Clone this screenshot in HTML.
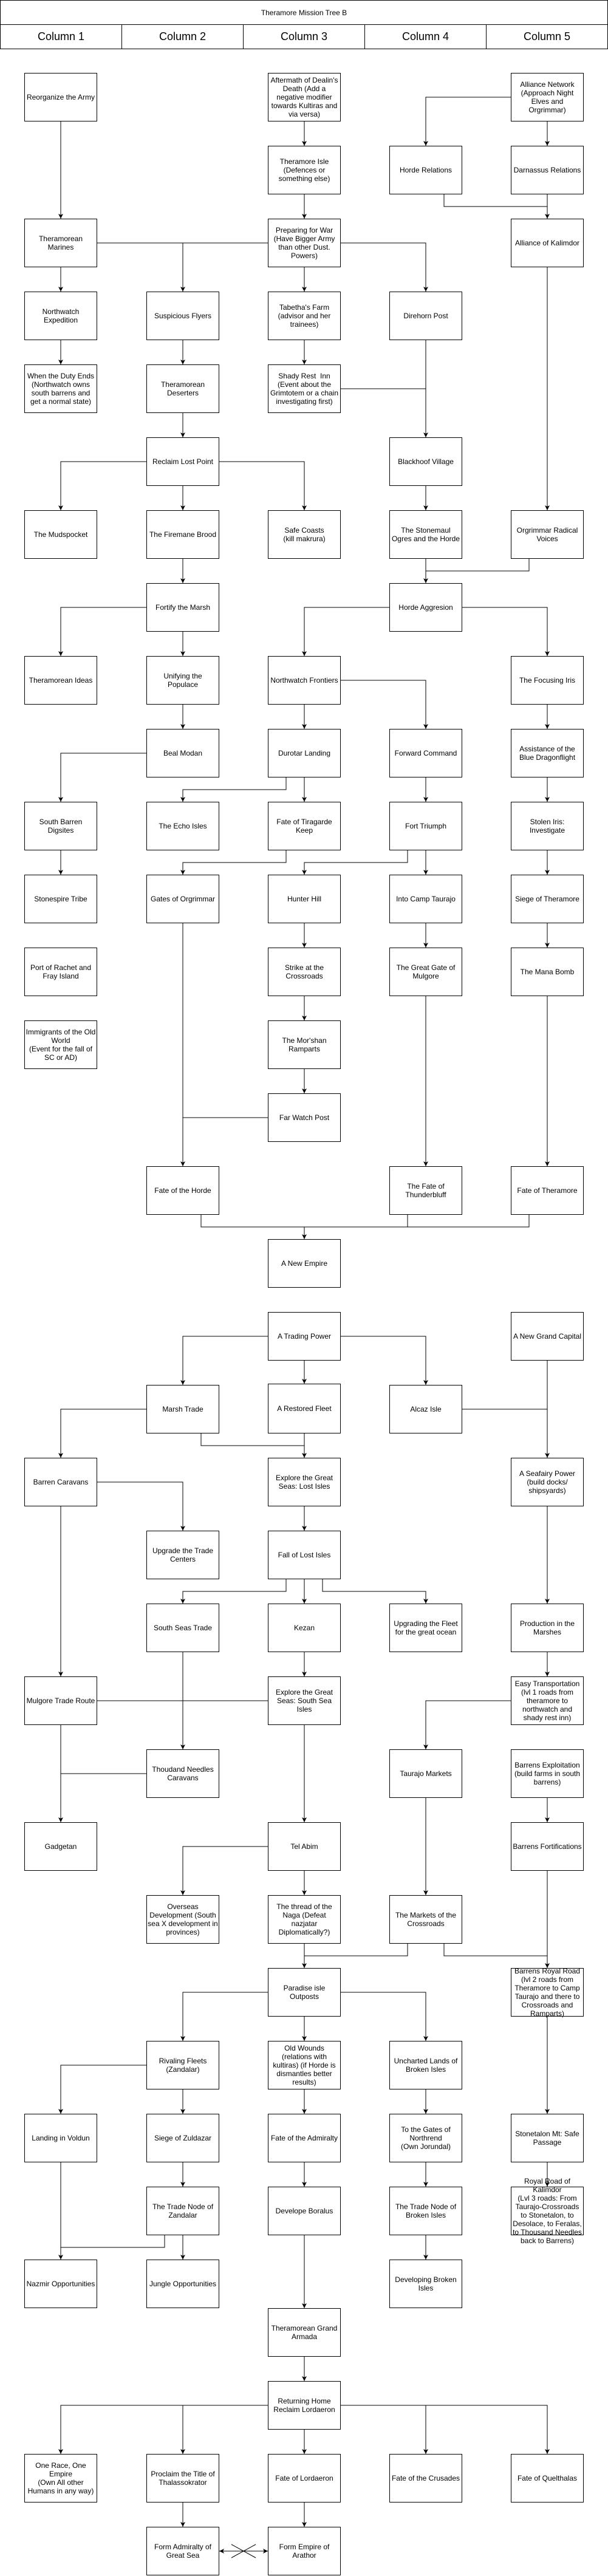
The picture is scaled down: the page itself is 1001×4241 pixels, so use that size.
<!DOCTYPE html>
<html><head><meta charset="utf-8">
<style>
html,body{margin:0;padding:0;background:#fff;}
body{width:1001px;height:4241px;position:relative;overflow:hidden;font-family:"Liberation Sans",Arial,sans-serif;}
.hd{position:absolute;box-sizing:border-box;border:1px solid #000;display:flex;align-items:center;justify-content:center;color:#000;}
.b{position:absolute;width:120px;height:80px;box-sizing:border-box;border:1px solid #000;display:flex;align-items:center;justify-content:center;text-align:center;font-size:12px;line-height:14px;color:#000;background:#fff;padding:0 1px;overflow:visible;}
.b.t{background:transparent;}
svg{position:absolute;left:0;top:0;}
</style></head><body>
<div class="hd" style="left:0;top:0;width:1001px;height:41px;font-size:12px;">Theramore Mission Tree B</div>
<div class="hd" style="left:0;top:40px;width:201px;height:41px;font-size:18px;">Column 1</div>
<div class="hd" style="left:200px;top:40px;width:201px;height:41px;font-size:18px;">Column 2</div>
<div class="hd" style="left:400px;top:40px;width:201px;height:41px;font-size:18px;">Column 3</div>
<div class="hd" style="left:600px;top:40px;width:201px;height:41px;font-size:18px;">Column 4</div>
<div class="hd" style="left:800px;top:40px;width:201px;height:41px;font-size:18px;">Column 5</div>

<svg width="1001" height="4241" viewBox="0 0 1001 4241">
<defs>
<marker id="a" markerUnits="userSpaceOnUse" markerWidth="10" markerHeight="10" refX="8" refY="4" orient="auto">
<path d="M0,0 L8,4 L0,8 L2,4 z" fill="#000"/>
</marker>
<marker id="s" markerUnits="userSpaceOnUse" markerWidth="10" markerHeight="10" refX="0" refY="4" orient="auto">
<path d="M8,0 L0,4 L8,8 L6,4 z" fill="#000"/>
</marker>
</defs>
<g fill="none" stroke="#000" stroke-width="1">
<path d="M100,200V360" marker-end="url(#a)"/>
<path d="M501,200V240" marker-end="url(#a)"/>
<path d="M841,160H701V240" marker-end="url(#a)"/>
<path d="M901,200V240" marker-end="url(#a)"/>
<path d="M501,320V360" marker-end="url(#a)"/>
<path d="M731,320V340H901"/>
<path d="M901,320V360" marker-end="url(#a)"/>
<path d="M160,400H301"/>
<path d="M441,400H301V480" marker-end="url(#a)"/>
<path d="M561,400H701V480" marker-end="url(#a)"/>
<path d="M100,440V480" marker-end="url(#a)"/>
<path d="M100,560V600" marker-end="url(#a)"/>
<path d="M501,440V480" marker-end="url(#a)"/>
<path d="M501,560V600" marker-end="url(#a)"/>
<path d="M301,560V600" marker-end="url(#a)"/>
<path d="M301,680V720" marker-end="url(#a)"/>
<path d="M701,560V720" marker-end="url(#a)"/>
<path d="M561,640H701"/>
<path d="M901,440V840" marker-end="url(#a)"/>
<path d="M241,760H100V840" marker-end="url(#a)"/>
<path d="M361,760H501V840" marker-end="url(#a)"/>
<path d="M301,800V840" marker-end="url(#a)"/>
<path d="M701,800V840" marker-end="url(#a)"/>
<path d="M701,920V960" marker-end="url(#a)"/>
<path d="M871,920V940H701"/>
<path d="M301,920V960" marker-end="url(#a)"/>
<path d="M241,1000H100V1080" marker-end="url(#a)"/>
<path d="M301,1040V1080" marker-end="url(#a)"/>
<path d="M641,1000H501V1080" marker-end="url(#a)"/>
<path d="M761,1000H901V1080" marker-end="url(#a)"/>
<path d="M301,1160V1200" marker-end="url(#a)"/>
<path d="M501,1160V1200" marker-end="url(#a)"/>
<path d="M561,1120H701V1200" marker-end="url(#a)"/>
<path d="M901,1160V1200" marker-end="url(#a)"/>
<path d="M241,1240H100V1320" marker-end="url(#a)"/>
<path d="M471,1280V1300H301V1320" marker-end="url(#a)"/>
<path d="M501,1280V1320" marker-end="url(#a)"/>
<path d="M701,1280V1320" marker-end="url(#a)"/>
<path d="M901,1280V1320" marker-end="url(#a)"/>
<path d="M100,1400V1440" marker-end="url(#a)"/>
<path d="M471,1400V1420H301V1440" marker-end="url(#a)"/>
<path d="M671,1400V1420H501V1440" marker-end="url(#a)"/>
<path d="M701,1400V1440" marker-end="url(#a)"/>
<path d="M901,1400V1440" marker-end="url(#a)"/>
<path d="M501,1520V1560" marker-end="url(#a)"/>
<path d="M701,1520V1560" marker-end="url(#a)"/>
<path d="M901,1520V1560" marker-end="url(#a)"/>
<path d="M501,1640V1680" marker-end="url(#a)"/>
<path d="M501,1760V1800" marker-end="url(#a)"/>
<path d="M301,1520V1920" marker-end="url(#a)"/>
<path d="M441,1840H301"/>
<path d="M701,1640V1920" marker-end="url(#a)"/>
<path d="M901,1640V1920" marker-end="url(#a)"/>
<path d="M331,2000V2020H871V2000"/>
<path d="M671,2000V2020"/>
<path d="M501,2020V2040" marker-end="url(#a)"/>
<path d="M441,2200H301V2280" marker-end="url(#a)"/>
<path d="M561,2200H701V2280" marker-end="url(#a)"/>
<path d="M501,2240V2278" marker-end="url(#a)"/>
<path d="M901,2240V2400" marker-end="url(#a)"/>
<path d="M761,2320H901"/>
<path d="M241,2320H100V2400" marker-end="url(#a)"/>
<path d="M331,2360V2380H501"/>
<path d="M501,2360V2400" marker-end="url(#a)"/>
<path d="M160,2440H301V2520" marker-end="url(#a)"/>
<path d="M100,2480V2760" marker-end="url(#a)"/>
<path d="M501,2480V2520" marker-end="url(#a)"/>
<path d="M471,2600V2620H301V2640" marker-end="url(#a)"/>
<path d="M501,2600V2640" marker-end="url(#a)"/>
<path d="M531,2600V2620H701V2640" marker-end="url(#a)"/>
<path d="M901,2480V2640" marker-end="url(#a)"/>
<path d="M901,2720V2760" marker-end="url(#a)"/>
<path d="M501,2720V2760" marker-end="url(#a)"/>
<path d="M160,2800H441"/>
<path d="M301,2720V2880" marker-end="url(#a)"/>
<path d="M841,2800H701V2880" marker-end="url(#a)"/>
<path d="M100,2840V3000" marker-end="url(#a)"/>
<path d="M241,2920H100"/>
<path d="M501,2840V3000" marker-end="url(#a)"/>
<path d="M901,2960V3000" marker-end="url(#a)"/>
<path d="M441,3040H301V3120" marker-end="url(#a)"/>
<path d="M501,3080V3120" marker-end="url(#a)"/>
<path d="M701,2960V3120" marker-end="url(#a)"/>
<path d="M901,3080V3240" marker-end="url(#a)"/>
<path d="M501,3200V3240" marker-end="url(#a)"/>
<path d="M671,3200V3220H501"/>
<path d="M731,3200V3220H901"/>
<path d="M441,3280H301V3360" marker-end="url(#a)"/>
<path d="M501,3320V3360" marker-end="url(#a)"/>
<path d="M561,3280H701V3360" marker-end="url(#a)"/>
<path d="M901,3320V3480" marker-end="url(#a)"/>
<path d="M241,3400H100V3480" marker-end="url(#a)"/>
<path d="M301,3440V3480" marker-end="url(#a)"/>
<path d="M501,3440V3480" marker-end="url(#a)"/>
<path d="M701,3440V3480" marker-end="url(#a)"/>
<path d="M301,3560V3600" marker-end="url(#a)"/>
<path d="M501,3560V3600" marker-end="url(#a)"/>
<path d="M701,3560V3600" marker-end="url(#a)"/>
<path d="M901,3560V3600" marker-end="url(#a)"/>
<path d="M100,3560V3720" marker-end="url(#a)"/>
<path d="M271,3680V3700H100"/>
<path d="M301,3680V3720" marker-end="url(#a)"/>
<path d="M701,3680V3720" marker-end="url(#a)"/>
<path d="M501,3680V3800" marker-end="url(#a)"/>
<path d="M501,3880V3920" marker-end="url(#a)"/>
<path d="M441,3960H100V4040" marker-end="url(#a)"/>
<path d="M301,3960V4040" marker-end="url(#a)"/>
<path d="M561,3960H901V4040" marker-end="url(#a)"/>
<path d="M701,3960V4040" marker-end="url(#a)"/>
<path d="M501,4000V4040" marker-end="url(#a)"/>
<path d="M301,4120V4160" marker-end="url(#a)"/>
<path d="M501,4120V4160" marker-end="url(#a)"/>
<path d="M361,4200H441" marker-start="url(#s)" marker-end="url(#a)"/>
<path d="M381,4189L421,4211M381,4211L421,4189"/>
</g>
</svg>

<!-- Row 0 -->
<div class="b" style="left:40px;top:120px">Reorganize the Army</div>
<div class="b" style="left:441px;top:120px">Aftermath of Dealin's Death (Add a negative modifier towards Kultiras and via versa)</div>
<div class="b" style="left:841px;top:120px">Alliance Network (Approach Night Elves and Orgrimmar)</div>
<!-- Row 1 -->
<div class="b" style="left:441px;top:240px">Theramore Isle (Defences or something else)</div>
<div class="b" style="left:641px;top:240px">Horde Relations</div>
<div class="b" style="left:841px;top:240px">Darnassus Relations</div>
<!-- Row 2 -->
<div class="b" style="left:40px;top:360px">Theramorean Marines</div>
<div class="b" style="left:441px;top:360px">Preparing for War (Have Bigger Army than other Dust. Powers)</div>
<div class="b" style="left:841px;top:360px">Alliance of Kalimdor</div>
<!-- Row 3 -->
<div class="b" style="left:40px;top:480px">Northwatch Expedition</div>
<div class="b" style="left:241px;top:480px">Suspicious Flyers</div>
<div class="b" style="left:441px;top:480px">Tabetha's Farm (advisor and her trainees)</div>
<div class="b" style="left:641px;top:480px">Direhorn Post</div>
<!-- Row 4 -->
<div class="b" style="left:40px;top:600px">When the Duty Ends (Northwatch owns south barrens and get a normal state)</div>
<div class="b" style="left:241px;top:600px">Theramorean Deserters</div>
<div class="b" style="left:441px;top:600px">Shady Rest&nbsp; Inn (Event about the Grimtotem or a chain investigating first)</div>
<!-- Row 5 -->
<div class="b" style="left:241px;top:720px">Reclaim Lost Point</div>
<div class="b" style="left:641px;top:720px">Blackhoof Village</div>
<!-- Row 6 -->
<div class="b" style="left:40px;top:840px">The Mudspocket</div>
<div class="b" style="left:241px;top:840px">The Firemane Brood</div>
<div class="b" style="left:441px;top:840px">Safe Coasts<br>(kill makrura)</div>
<div class="b" style="left:641px;top:840px">The Stonemaul Ogres and the Horde</div>
<div class="b" style="left:841px;top:840px">Orgrimmar Radical Voices</div>
<!-- Row 7 -->
<div class="b" style="left:241px;top:960px">Fortify the Marsh</div>
<div class="b" style="left:641px;top:960px">Horde Aggresion</div>
<!-- Row 8 -->
<div class="b" style="left:40px;top:1080px">Theramorean Ideas</div>
<div class="b" style="left:241px;top:1080px">Unifying the Populace</div>
<div class="b" style="left:441px;top:1080px">Northwatch Frontiers</div>
<div class="b" style="left:841px;top:1080px">The Focusing Iris</div>
<!-- Row 9 -->
<div class="b" style="left:241px;top:1200px">Beal Modan</div>
<div class="b" style="left:441px;top:1200px">Durotar Landing</div>
<div class="b" style="left:641px;top:1200px">Forward Command</div>
<div class="b" style="left:841px;top:1200px">Assistance of the Blue Dragonflight</div>
<!-- Row 10 -->
<div class="b" style="left:40px;top:1320px">South Barren Digsites</div>
<div class="b" style="left:241px;top:1320px">The Echo Isles</div>
<div class="b" style="left:441px;top:1320px">Fate of Tiragarde Keep</div>
<div class="b" style="left:641px;top:1320px">Fort Triumph</div>
<div class="b" style="left:841px;top:1320px">Stolen Iris: Investigate</div>
<!-- Row 11 -->
<div class="b" style="left:40px;top:1440px">Stonespire Tribe</div>
<div class="b" style="left:241px;top:1440px">Gates of Orgrimmar</div>
<div class="b" style="left:441px;top:1440px">Hunter Hill</div>
<div class="b" style="left:641px;top:1440px">Into Camp Taurajo</div>
<div class="b" style="left:841px;top:1440px">Siege of Theramore</div>
<!-- Row 12 -->
<div class="b" style="left:40px;top:1560px">Port of Rachet and Fray Island</div>
<div class="b" style="left:441px;top:1560px">Strike at the Crossroads</div>
<div class="b" style="left:641px;top:1560px">The Great Gate of Mulgore</div>
<div class="b" style="left:841px;top:1560px">The Mana Bomb</div>
<!-- Row 13 -->
<div class="b" style="left:40px;top:1680px">Immigrants of the Old World<br>(Event for the fall of SC or AD)</div>
<div class="b" style="left:441px;top:1680px">The Mor'shan Ramparts</div>
<!-- Row 14 -->
<div class="b" style="left:441px;top:1800px">Far Watch Post</div>
<!-- Row 15 -->
<div class="b" style="left:241px;top:1920px">Fate of the Horde</div>
<div class="b" style="left:641px;top:1920px">The Fate of Thunderbluff</div>
<div class="b" style="left:841px;top:1920px">Fate of Theramore</div>
<!-- Row 16 -->
<div class="b" style="left:441px;top:2040px">A New Empire</div>
<!-- Row 17 -->
<div class="b" style="left:441px;top:2160px">A Trading Power</div>
<div class="b" style="left:841px;top:2160px">A New Grand Capital</div>
<!-- Row 18 -->
<div class="b" style="left:241px;top:2280px">Marsh Trade</div>
<div class="b" style="left:441px;top:2278px;height:82px">A Restored Fleet</div>
<div class="b" style="left:641px;top:2280px">Alcaz Isle</div>
<!-- Row 19 -->
<div class="b" style="left:40px;top:2400px">Barren Caravans</div>
<div class="b" style="left:441px;top:2400px">Explore the Great Seas: Lost Isles</div>
<div class="b" style="left:841px;top:2400px">A Seafairy Power (build docks/ shipsyards)</div>
<!-- Row 20 -->
<div class="b" style="left:241px;top:2520px">Upgrade the Trade Centers</div>
<div class="b" style="left:441px;top:2520px">Fall of Lost Isles</div>
<!-- Row 21 -->
<div class="b" style="left:241px;top:2640px">South Seas Trade</div>
<div class="b" style="left:441px;top:2640px">Kezan</div>
<div class="b" style="left:641px;top:2640px">Upgrading the Fleet for the great ocean</div>
<div class="b" style="left:841px;top:2640px">Production in the Marshes</div>
<!-- Row 22 -->
<div class="b" style="left:40px;top:2760px">Mulgore Trade Route</div>
<div class="b" style="left:441px;top:2760px">Explore the Great Seas: South Sea Isles</div>
<div class="b" style="left:841px;top:2760px">Easy Transportation (lvl 1 roads from theramore to northwatch and shady rest inn)</div>
<!-- Row 23 -->
<div class="b" style="left:241px;top:2880px">Thoudand Needles Caravans</div>
<div class="b" style="left:641px;top:2880px">Taurajo Markets</div>
<div class="b" style="left:841px;top:2880px">Barrens Exploitation (build farms in south barrens)</div>
<!-- Row 24 -->
<div class="b" style="left:40px;top:3000px">Gadgetan</div>
<div class="b" style="left:441px;top:3000px">Tel Abim</div>
<div class="b" style="left:841px;top:3000px">Barrens Fortifications</div>
<!-- Row 25 -->
<div class="b" style="left:241px;top:3120px">Overseas Development (South sea X development in provinces)</div>
<div class="b" style="left:441px;top:3120px">The thread of the Naga (Defeat nazjatar Diplomatically?)</div>
<div class="b" style="left:641px;top:3120px">The Markets of the Crossroads</div>
<!-- Row 26 -->
<div class="b" style="left:441px;top:3240px">Paradise isle Outposts</div>
<div class="b t" style="left:841px;top:3240px">Barrens Royal Road (lvl 2 roads from Theramore to Camp Taurajo and there to Crossroads and Ramparts)</div>
<!-- Row 27 -->
<div class="b" style="left:241px;top:3360px">Rivaling Fleets (Zandalar)</div>
<div class="b" style="left:441px;top:3360px">Old Wounds (relations with kultiras) (if Horde is dismantles better results)</div>
<div class="b" style="left:641px;top:3360px">Uncharted Lands of Broken Isles</div>
<!-- Row 28 -->
<div class="b" style="left:40px;top:3480px">Landing in Voldun</div>
<div class="b" style="left:241px;top:3480px">Siege of Zuldazar</div>
<div class="b" style="left:441px;top:3480px">Fate of the Admiralty</div>
<div class="b" style="left:641px;top:3480px">To the Gates of Northrend<br>(Own Jorundal)</div>
<div class="b" style="left:841px;top:3480px">Stonetalon Mt: Safe Passage</div>
<!-- Row 29 -->
<div class="b" style="left:241px;top:3600px">The Trade Node of Zandalar</div>
<div class="b" style="left:441px;top:3600px">Develope Boralus</div>
<div class="b" style="left:641px;top:3600px">The Trade Node of Broken Isles</div>
<div class="b t" style="left:841px;top:3600px">Royal Road of Kalimdor<br>(Lvl 3 roads: From Taurajo-Crossroads to Stonetalon, to Desolace, to Feralas, to Thousand Needles back to Barrens)</div>
<!-- Row 30 -->
<div class="b" style="left:40px;top:3720px">Nazmir Opportunities</div>
<div class="b" style="left:241px;top:3720px">Jungle Opportunities</div>
<div class="b" style="left:641px;top:3720px">Developing Broken Isles</div>
<!-- Armada -->
<div class="b" style="left:441px;top:3800px">Theramorean Grand Armada</div>
<div class="b" style="left:441px;top:3920px">Returning Home Reclaim Lordaeron</div>
<!-- Row 33 -->
<div class="b" style="left:40px;top:4040px">One Race, One Empire<br>(Own All other Humans in any way)</div>
<div class="b" style="left:241px;top:4040px">Proclaim the Title of Thalassokrator</div>
<div class="b" style="left:441px;top:4040px">Fate of Lordaeron</div>
<div class="b" style="left:641px;top:4040px">Fate of the Crusades</div>
<div class="b" style="left:841px;top:4040px">Fate of Quelthalas</div>
<!-- Row 34 -->
<div class="b" style="left:241px;top:4160px">Form Admiralty of Great Sea</div>
<div class="b" style="left:441px;top:4160px">Form Empire of Arathor</div>
</body></html>
